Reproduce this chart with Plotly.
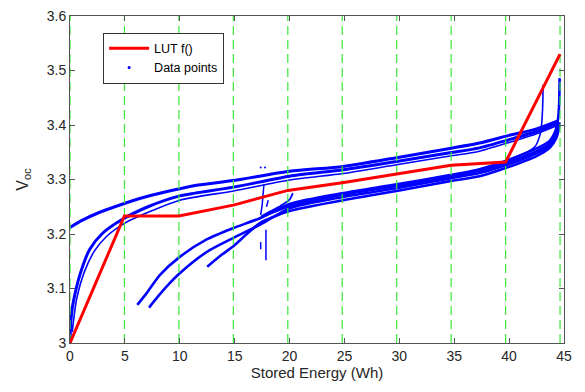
import plotly.graph_objects as go

# ---- data ----
lut_x = [0, 4.96, 9.92, 14.88, 19.84, 24.8, 29.76, 34.72, 39.68, 44.64]
lut_y = [3.0, 3.233, 3.233, 3.253, 3.280, 3.294, 3.310, 3.326, 3.332, 3.530]

grid_x = [0, 4.96, 9.92, 14.88, 19.84, 24.8, 29.76, 34.72, 39.68, 44.64]

a_x = [0, 1, 2.6, 4.95, 6.5, 8.65, 11.4, 14.9, 20, 24.9, 29.75, 34.6, 37.3, 40, 42.5, 44.5]
a_y = [3.212, 3.224, 3.239, 3.256, 3.266, 3.277, 3.289, 3.298, 3.315, 3.324, 3.340, 3.357, 3.367, 3.381, 3.393, 3.408]

b_x = [0, 0.05, 0.15, 0.3, 0.9, 1.8, 2.9, 4.7, 7.1, 10, 11.4, 14.9, 20, 24.9, 29.75, 34.6, 37.3, 40, 42.5, 44.5]
b_y = [3.0, 3.03, 3.055, 3.075, 3.125, 3.172, 3.200, 3.226, 3.250, 3.270, 3.275, 3.286, 3.306, 3.318, 3.333, 3.349, 3.358, 3.373, 3.388, 3.404]

b2_x = [0.2, 0.6, 1.3, 2.2, 3.3, 5, 7.5, 10, 14.9, 20, 24.9, 29.75, 34.6, 37.3, 40, 42.5, 44.5]
b2_y = [3.02, 3.08, 3.13, 3.168, 3.195, 3.220, 3.243, 3.262, 3.279, 3.299, 3.311, 3.327, 3.343, 3.352, 3.368, 3.384, 3.400]

c1_x = [6.13, 7, 8.2, 10, 12.45, 14.9, 17.3, 20, 24.9, 29.75, 34.6, 37.3, 39.8, 42.5, 43.7, 44.2, 44.45, 44.56, 44.6]
c1_y = [3.070, 3.092, 3.125, 3.158, 3.190, 3.211, 3.229, 3.255, 3.275, 3.291, 3.308, 3.319, 3.335, 3.357, 3.371, 3.388, 3.410, 3.440, 3.486]

c2_x = [7.2, 8, 9, 10, 12.45, 14.9, 17.3, 20, 24.9, 29.75, 34.6, 37.3, 39.8, 42.5, 43.7, 44.3, 44.55]
c2_y = [3.065, 3.085, 3.108, 3.128, 3.167, 3.193, 3.217, 3.247, 3.268, 3.284, 3.302, 3.312, 3.327, 3.348, 3.362, 3.380, 3.400]

c3_x = [12.5, 13.5, 14.9, 16, 17.3, 20, 24.9, 29.75, 34.6, 37.3, 39.8, 42.5, 43.7, 44.3, 44.6]
c3_y = [3.140, 3.157, 3.178, 3.198, 3.220, 3.242, 3.262, 3.279, 3.297, 3.306, 3.322, 3.343, 3.358, 3.376, 3.400]

c4_x = [17.5, 20, 24.9, 29.75, 34.6, 37.3, 39.8, 42.5, 43.7, 44.3, 44.6]
c4_y = [3.232, 3.251, 3.272, 3.288, 3.305, 3.316, 3.331, 3.352, 3.366, 3.384, 3.405]

d_x = [30, 35, 39, 40.4, 41.5, 42.35, 42.8, 42.95, 43.05, 43.1]
d_y = [3.287, 3.305, 3.328, 3.340, 3.349, 3.360, 3.381, 3.399, 3.430, 3.474]

s1_x = [17.85, 17.85]
s1_y = [3.152, 3.208]
s2_x = [17.37, 17.37]
s2_y = [3.172, 3.185]
s3_x = [17.67, 17.6, 17.5, 17.37]
s3_y = [3.292, 3.272, 3.252, 3.235]
s4_x = [17.4, 18.2, 19.2, 20.0, 20.3]
s4_y = [3.232, 3.241, 3.252, 3.263, 3.275]
s5_x = [18.06, 17.9]
s5_y = [3.262, 3.250]
dots_x = [17.37, 17.76]
dots_y = [3.322, 3.322]

x_ticks = [0, 5, 10, 15, 20, 25, 30, 35, 40, 45]
y_ticks = [3.0, 3.1, 3.2, 3.3, 3.4, 3.5, 3.6]
y_labels = ["3", "3.1", "3.2", "3.3", "3.4", "3.5", "3.6"]

BLUE = "#0000ff"
fig = go.Figure()

smooth_curves = [
    (a_x, a_y, 3.0), (b_x, b_y, 3.0), (b2_x, b2_y, 1.6),
    (c1_x, c1_y, 2.6), (c2_x, c2_y, 2.6), (c3_x, c3_y, 2.6), (c4_x, c4_y, 2.6),
    (d_x, d_y, 1.6), (s4_x, s4_y, 1.8),
]
for xs, ys, w in smooth_curves:
    fig.add_trace(go.Scatter(x=xs, y=ys, mode="lines",
                             line=dict(color=BLUE, width=w, shape="spline", smoothing=0.7),
                             showlegend=False, hoverinfo="skip"))
for xs, ys in [(s1_x, s1_y), (s2_x, s2_y), (s3_x, s3_y), (s5_x, s5_y)]:
    fig.add_trace(go.Scatter(x=xs, y=ys, mode="lines", line=dict(color=BLUE, width=1.5),
                             showlegend=False, hoverinfo="skip"))
fig.add_trace(go.Scatter(x=dots_x, y=dots_y, mode="markers", marker=dict(color=BLUE, size=2),
                         showlegend=False, hoverinfo="skip"))

# green dashed verticals
for gx in grid_x:
    fig.add_trace(go.Scatter(x=[gx, gx], y=[3.0, 3.6], mode="lines",
                             line=dict(color="#3ae83a", width=1.2, dash="9px,5px"),
                             showlegend=False, hoverinfo="skip"))

fig.add_trace(go.Scatter(x=lut_x, y=lut_y, mode="lines", name="LUT f()",
                         line=dict(color="#ff0000", width=3), legendrank=1))
fig.add_trace(go.Scatter(x=[None], y=[None], mode="markers", name="Data points",
                         marker=dict(color=BLUE, size=3), legendrank=2))

axis_common = dict(showgrid=False, zeroline=False, showline=True, linecolor="#555555",
                   linewidth=1, mirror="ticks", ticks="inside", ticklen=5, tickcolor="#555555",
                   tickfont=dict(size=14, color="#262626"), ticklabeloverflow="allow")
fig.update_layout(
    width=585, height=392,
    margin=dict(l=70, r=21, t=8, b=49),
    paper_bgcolor="white", plot_bgcolor="white",
    font=dict(family="Liberation Sans, Arial, sans-serif", color="#262626"),
    xaxis=dict(range=[0, 45], tickvals=x_ticks, title=dict(text="Stored Energy (Wh)", font=dict(size=15), standoff=2),
               **axis_common),
    yaxis=dict(range=[3.0, 3.6], tickvals=y_ticks, ticktext=y_labels,
               title=dict(text="V<sub>oc</sub>", font=dict(size=16), standoff=14), **axis_common),
    legend=dict(x=0.067, y=0.949, xanchor="left", yanchor="top", bgcolor="white",
                bordercolor="#333333", borderwidth=1, font=dict(size=12.5, color="#000000"),
                tracegroupgap=0, itemwidth=40),
)

fig.write_html("out.html")
